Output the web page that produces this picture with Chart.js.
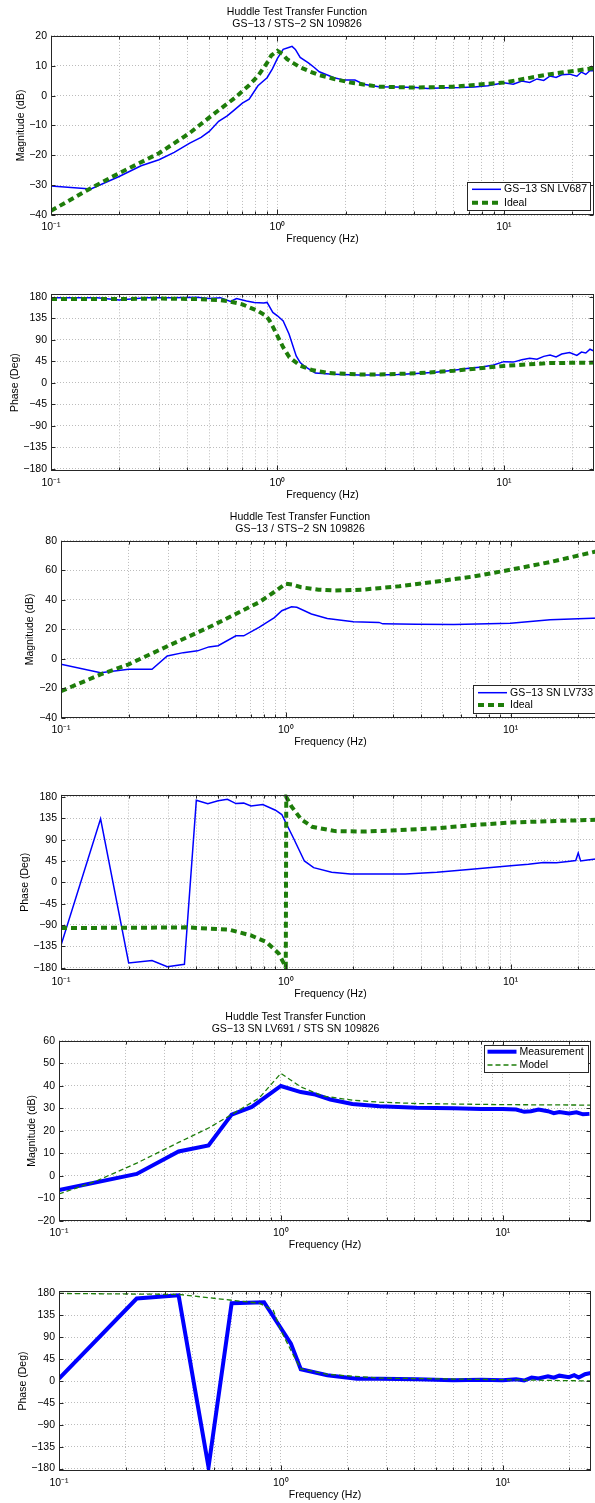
<!DOCTYPE html>
<html>
<head>
<meta charset="utf-8">
<script src="https://cdn.jsdelivr.net/npm/chart.js@4.4.1/dist/chart.umd.min.js"></script>
<style>
  html, body { margin: 0; padding: 0; background: #fff; }
  body { width: 595px; height: 1503px; position: relative; overflow: hidden; }
  canvas { position: absolute; left: 0; }
</style>
</head>
<body>
<canvas id="mag1"></canvas>
<canvas id="phase1"></canvas>
<canvas id="mag2"></canvas>
<canvas id="phase2"></canvas>
<canvas id="mag3"></canvas>
<canvas id="phase3"></canvas>
<script>
// axis ticks
const freqTicks = [0.1, 0.2, 0.3, 0.4, 0.5, 0.6, 0.7, 0.8, 0.9, 1, 2, 3, 4, 5, 6, 7, 8, 9, 10, 20];
const decadeTicks = [0.1, 1, 10];
const decadeLabels = ['10⁻¹', '10⁰', '10¹'];
const phaseTicks = [-180, -135, -90, -45, 0, 45, 90, 135, 180];
const mag1Ticks = [-40, -30, -20, -10, 0, 10, 20];
const mag2Ticks = [-40, -20, 0, 20, 40, 60, 80];
const mag3Ticks = [-20, -10, 0, 10, 20, 30, 40, 50, 60];

// panel 1 / 2 : GS-13 SN LV687
const lv687MagFreq = [0.1, 0.15, 0.2, 0.25, 0.3, 0.35, 0.41, 0.46, 0.5, 0.55, 0.6, 0.64, 0.7, 0.75, 0.82, 0.9, 0.95, 1.0, 1.06, 1.13, 1.16, 1.2, 1.26, 1.37, 1.45, 1.53, 1.65, 1.78, 1.97, 2.2, 2.4, 2.8, 3.3, 4.1, 4.6, 5.5, 6.5, 7.4, 8.5, 10, 11, 12, 13, 14, 15, 16, 17, 18, 19.5, 21, 22, 23, 24, 25];
const lv687Mag = [-30.3, -31.3, -27.1, -23.5, -21.5, -19, -15.9, -14, -12, -8.6, -6.8, -5, -2.5, -1.2, 3.3, 6, 9, 12.5, 15.5, 16.2, 16.5, 15.5, 12.8, 11, 9.5, 8, 7, 6, 5.2, 5.2, 3.8, 3, 2.9, 2.7, 2.4, 2.6, 2.7, 2.9, 3.3, 4.3, 3.8, 4.9, 4.4, 5.6, 5.1, 6.6, 6.1, 7.0, 7.2, 6.5, 7.9, 7.1, 8.4, 8.3];
const ideal1MagFreq = [0.1, 0.15, 0.2, 0.3, 0.41, 0.52, 0.65, 0.75, 0.82, 0.9, 0.94, 1.0, 1.05, 1.1, 1.18, 1.26, 1.4, 1.53, 1.8, 2.1, 2.8, 4.1, 6, 10, 16, 25];
const ideal1Mag = [-38.6, -31, -26, -19.3, -12.5, -6.3, -0.7, 3.5, 6.6, 11, 13.5, 15, 14, 12.3, 10.8, 9.5, 8, 6.9, 5.5, 4.4, 3, 2.7, 3, 4.4, 7.2, 9.2];
const lv687PhaseFreq = [0.1, 0.16, 0.2, 0.26, 0.35, 0.44, 0.5, 0.56, 0.62, 0.66, 0.73, 0.79, 0.87, 0.9, 0.954, 1.0, 1.06, 1.125, 1.21, 1.26, 1.31, 1.47, 1.7, 1.9, 2.3, 2.8, 3.4, 4.1, 5, 6, 7, 8, 9, 10, 11, 12, 13, 14, 15, 16, 17, 18, 19.5, 21, 22, 23, 24, 25];
const lv687Phase = [178, 178, 173, 178, 178, 179, 176, 178, 170, 176, 171, 168, 167, 168, 147, 140, 129, 102, 56, 42, 35, 20, 18, 17, 16, 16, 17, 19, 22, 26, 30, 33, 37, 44, 43, 48, 51, 49, 55, 58, 54, 60, 63, 57, 64, 62, 70, 66];
const ideal1PhaseFreq = [0.1, 0.2, 0.3, 0.45, 0.55, 0.6, 0.7, 0.82, 0.89, 0.92, 0.95, 1.0, 1.06, 1.13, 1.26, 1.42, 1.7, 2.3, 2.8, 4.1, 6, 10, 16, 25];
const ideal1Phase = [175, 175, 176, 175, 173, 171, 164, 150, 140, 131, 119, 98, 74, 53, 35.5, 26.5, 20, 17, 17, 19.5, 25, 35, 41, 42];

// panel 3 / 4 : GS-13 SN LV733
const lv733MagFreq = [0.1, 0.15, 0.2, 0.254, 0.297, 0.35, 0.405, 0.455, 0.5, 0.6, 0.65, 0.76, 0.89, 0.96, 1.06, 1.12, 1.3, 1.53, 2.0, 2.6, 2.7, 3.8, 5.6, 10, 15, 20, 25];
const lv733Mag = [-3.6, -9.3, -7, -7, 2, 4.3, 5.5, 8.2, 9, 15.7, 15.7, 21.4, 28, 32.7, 35.4, 35, 30.5, 27.5, 25.2, 24.8, 23.8, 23.6, 23.4, 24.3, 26.6, 27.3, 27.8];
const ideal2MagFreq = [0.1, 0.15, 0.2, 0.3, 0.47, 0.76, 0.9, 1.0, 1.08, 1.17, 1.4, 1.66, 2.2, 3.2, 4.7, 6.9, 10, 15, 25];
const ideal2Mag = [-21.8, -10.5, -3.6, 8.9, 22.5, 38.4, 46, 51, 50.3, 48.6, 47, 46.4, 47, 49.3, 52.5, 56, 60.5, 65.7, 73.5];
const lv733PhaseFreq = [0.1, 0.15, 0.2, 0.254, 0.297, 0.354, 0.4, 0.45, 0.5, 0.55, 0.6, 0.65, 0.7, 0.79, 0.9, 0.96, 1.0, 1.08, 1.21, 1.33, 1.6, 1.94, 2.63, 3.4, 4.7, 6.9, 10, 12, 14, 16, 18, 19.5, 20, 20.5, 22, 25];
const lv733Phase = [-133, 134, -170, -165, -178, -173, 173, 166, 172, 175, 166, 167, 161, 164, 152, 143, 126, 94, 45, 31, 21, 17.5, 17.5, 17.5, 21, 28, 35, 38, 42, 41, 44, 46, 62, 45, 47, 50];
const ideal2PhaseFreq = [0.1, 0.3, 0.36, 0.56, 0.7, 0.82, 0.93, 0.98, 1.0, 1.005, 1.06, 1.17, 1.31, 1.66, 2.2, 3.2, 4.7, 6.9, 10, 15, 25];
const ideal2Phase = [-96.5, -95.5, -95, -100, -112, -126, -150, -171, -180, 180, 160, 133, 117, 108, 107, 110, 114, 121, 126, 129, 132];

// panel 5 / 6 : GS-13 SN LV691
const lv691MagFreq = [0.1, 0.224, 0.346, 0.472, 0.6, 0.74, 1.0, 1.23, 1.43, 1.67, 2.1, 2.78, 4.1, 6, 8, 10, 11.5, 12.5, 13.4, 14.5, 16, 17, 18, 19.9, 21.5, 23, 24.6];
const lv691Mag = [-6.3, 0.9, 10.9, 13.6, 27.3, 30.7, 40, 37.3, 36.2, 34, 32, 31, 30.3, 30.1, 29.8, 29.8, 29.5, 28.5, 28.8, 29.5, 28.8, 27.9, 28.4, 27.8, 28.3, 27.4, 27.6];
const modelMagFreq = [0.1, 0.145, 0.224, 0.346, 0.472, 0.6, 0.8, 1.0, 1.23, 1.55, 2.1, 2.78, 4.1, 10, 25];
const modelMag = [-8, -2.5, 5.7, 14.9, 21.3, 27.3, 34.7, 45.6, 39.6, 35.5, 33.7, 32.8, 32.2, 31.7, 31.5];
const lv691PhaseFreq = [0.1, 0.224, 0.346, 0.472, 0.6, 0.84, 1.11, 1.23, 1.62, 2.2, 2.78, 4.1, 6, 8, 10, 11.5, 12.5, 13.5, 14.5, 16, 17, 18, 19.9, 21, 22, 23.5, 25];
const lv691Phase = [4.8, 169.5, 176, -177, 160, 162, 77, 24, 11.7, 4.8, 4.8, 3.4, 1.4, 2.5, 1.4, 3.5, 1, 7, 5, 9.6, 7, 11, 8, 12, 7, 14, 16.5];
const modelPhaseFreq = [0.1, 0.346, 0.6, 0.8, 0.925, 1.0, 1.13, 1.23, 1.62, 2.78, 10, 25];
const modelPhase = [180, 178, 166, 160, 145, 104, 56, 25, 13.7, 6, 2.7, 0];

const BLUE = '#0000ff';
const GREEN = '#1e7d0a';
const FONT = { family: 'Liberation Sans, Arial, sans-serif', size: 10.5, weight: 'normal' };

const pts = (f, v) => f.map((x, i) => ({ x: x, y: v[i] }));
const minus = v => String(v).replace('-', '\u2212');

// axes box with inward tick marks (MATLAB style)
const frame = {
    id: 'frame',
    afterDatasetsDraw(chart) {
        const { ctx, chartArea: a, scales } = chart;
        const l = Math.round(a.left) + 0.5, r = Math.round(a.right) - 0.5;
        const t = Math.round(a.top) + 0.5, b = Math.round(a.bottom) - 0.5;
        ctx.save();
        ctx.strokeStyle = '#262626';
        ctx.lineWidth = 1;
        ctx.strokeRect(l, t, r - l, b - t);
        ctx.beginPath();
        scales.x.ticks.forEach(tk => {
            const px = Math.round(scales.x.getPixelForValue(tk.value)) + 0.5;
            const len = decadeTicks.includes(tk.value) ? 5 : 3;
            ctx.moveTo(px, b); ctx.lineTo(px, b - len);
            ctx.moveTo(px, t); ctx.lineTo(px, t + len);
        });
        scales.y.ticks.forEach(tk => {
            const py = Math.round(scales.y.getPixelForValue(tk.value)) + 0.5;
            ctx.moveTo(l, py); ctx.lineTo(l + 4, py);
            ctx.moveTo(r, py); ctx.lineTo(r - 4, py);
        });
        ctx.stroke();
        ctx.restore();
    }
};

// legend box drawn inside the axes
const boxLegend = {
    id: 'boxLegend',
    afterDraw(chart, args, o) {
        if (!o.show) return;
        const { ctx, chartArea: a } = chart;
        const x = Math.round(a.right - o.right - o.width);
        const y = Math.round(o.top != null ? a.top + o.top : a.bottom - o.bottom - o.height);
        ctx.save();
        ctx.fillStyle = '#fff';
        ctx.fillRect(x, y, o.width, o.height);
        ctx.strokeStyle = '#262626';
        ctx.lineWidth = 1;
        ctx.strokeRect(x + 0.5, y + 0.5, o.width, o.height);
        chart.data.datasets.forEach((ds, i) => {
            const cy = y + o.rowTop + i * o.rowGap;
            ctx.strokeStyle = ds.borderColor;
            ctx.lineWidth = ds.borderWidth;
            ctx.setLineDash(ds.borderDash || []);
            ctx.beginPath();
            ctx.moveTo(x + o.lineFrom, cy);
            ctx.lineTo(x + o.lineTo, cy);
            ctx.stroke();
            ctx.setLineDash([]);
            ctx.fillStyle = '#000';
            ctx.font = FONT.size + 'px ' + FONT.family;
            ctx.textBaseline = 'middle';
            ctx.fillText(ds.label, x + o.textX, cy);
        });
        ctx.restore();
    }
};

function panel(id, p) {
    const canvas = document.getElementById(id);
    canvas.style.top = p.top + 'px';
    canvas.width = p.width;
    canvas.height = p.height;
    return new Chart(canvas, {
        type: 'line',
        data: { datasets: p.datasets },
        plugins: [frame, boxLegend],
        options: {
            responsive: false,
            animation: false,
            devicePixelRatio: 1,
            layout: { padding: { top: p.padTop || 0, right: p.padRight, left: 0, bottom: 0 } },
            elements: { point: { radius: 0 }, line: { tension: 0 } },
            plugins: {
                legend: { display: false },
                tooltip: { enabled: false },
                title: p.title ? {
                    display: true, text: p.title, color: '#000', font: FONT,
                    padding: { top: 5.4, bottom: 5.35 }
                } : { display: false },
                boxLegend: p.legend || { show: false }
            },
            scales: {
                x: {
                    type: 'logarithmic', min: 0.1, max: 25,
                    afterBuildTicks: axis => { axis.ticks = freqTicks.map(v => ({ value: v })); },
                    afterFit: axis => { axis.height = 34; },
                    ticks: {
                        autoSkip: false, maxRotation: 0, minRotation: 0, padding: 6,
                        color: '#000', font: FONT,
                        callback: v => {
                            const i = decadeTicks.indexOf(v);
                            return i < 0 ? '' : decadeLabels[i];
                        }
                    },
                    grid: { color: '#bcbcbc', lineWidth: 1, drawTicks: false },
                    border: { display: false, dash: [1, 2] },
                    title: { display: true, text: 'Frequency (Hz)', color: '#000', font: FONT, padding: { top: 0, bottom: 3.5 } }
                },
                y: {
                    min: p.yMin, max: p.yMax,
                    afterBuildTicks: axis => { axis.ticks = p.yTicks.map(v => ({ value: v })); },
                    afterFit: axis => { axis.width = p.left; },
                    ticks: { padding: 4, color: '#000', font: FONT, callback: v => minus(v) },
                    grid: { color: '#bcbcbc', lineWidth: 1, drawTicks: false },
                    border: { display: false, dash: [1, 2] },
                    title: { display: true, text: p.yTitle, color: '#000', font: FONT, padding: { top: p.yTitlePad, bottom: 0 } }
                }
            }
        }
    });
}

const thinBlue = (label, data) => ({ label, data, borderColor: BLUE, borderWidth: 1.5, order: 1 });
const thickGreen = (label, data) => ({ label, data, borderColor: GREEN, borderWidth: 4, borderDash: [6, 4], order: 0 });
const thickBlue = (label, data) => ({ label, data, borderColor: BLUE, borderWidth: 4, order: 1 });
const thinGreen = (label, data) => ({ label, data, borderColor: GREEN, borderWidth: 1.3, borderDash: [5, 3], order: 0 });

const TITLE_A = ['Huddle Test Transfer Function', 'GS\u221213 / STS\u22122 SN 109826'];
const TITLE_B = ['Huddle Test Transfer Function', 'GS\u221213 SN LV691 / STS SN 109826'];

panel('mag1', {
    top: 0, width: 595, height: 249, padRight: 1, left: 51, title: TITLE_A,
    yMin: -40, yMax: 20, yTicks: mag1Ticks, yTitle: 'Magnitude (dB)', yTitlePad: 14.7,
    datasets: [thinBlue('GS\u221213 SN LV687', pts(lv687MagFreq, lv687Mag)), thickGreen('Ideal', pts(ideal1MagFreq, ideal1Mag))],
    legend: { show: true, width: 123, height: 28, right: 4, bottom: 5, rowTop: 7.3, rowGap: 13.4, lineFrom: 5, lineTo: 34, textX: 37 }
});

panel('phase1', {
    top: 255, width: 595, height: 250, padTop: 39.3, padRight: 1, left: 51,
    yMin: -185, yMax: 185, yTicks: phaseTicks, yTitle: 'Phase (Deg)', yTitlePad: 8.9,
    datasets: [thinBlue('GS\u221213 SN LV687', pts(lv687PhaseFreq, lv687Phase)), thickGreen('Ideal', pts(ideal1PhaseFreq, ideal1Phase))]
});

panel('mag2', {
    top: 505, width: 601, height: 247, padRight: 1, left: 61, title: TITLE_A,
    yMin: -40, yMax: 80, yTicks: mag2Ticks, yTitle: 'Magnitude (dB)', yTitlePad: 24.1,
    datasets: [thinBlue('GS\u221213 SN LV733', pts(lv733MagFreq, lv733Mag)), thickGreen('Ideal', pts(ideal2MagFreq, ideal2Mag))],
    legend: { show: true, width: 124, height: 28, right: 3, bottom: 5, rowTop: 7.7, rowGap: 12.3, lineFrom: 5, lineTo: 34, textX: 37 }
});

panel('phase2', {
    top: 755, width: 601, height: 249, padTop: 39.6, padRight: 1, left: 61,
    yMin: -185, yMax: 185, yTicks: phaseTicks, yTitle: 'Phase (Deg)', yTitlePad: 18.4,
    datasets: [thinBlue('GS\u221213 SN LV733', pts(lv733PhaseFreq, lv733Phase)), thickGreen('Ideal', pts(ideal2PhaseFreq, ideal2Phase))]
});

panel('mag3', {
    top: 1005, width: 595, height: 250, padRight: 4, left: 59, title: TITLE_B,
    yMin: -20, yMax: 60, yTicks: mag3Ticks, yTitle: 'Magnitude (dB)', yTitlePad: 26.1,
    datasets: [thickBlue('Measurement', pts(lv691MagFreq, lv691Mag)), thinGreen('Model', pts(modelMagFreq, modelMag))],
    legend: { show: true, width: 104, height: 27, right: 3, top: 4, rowTop: 6.7, rowGap: 13.3, lineFrom: 3.5, lineTo: 32.5, textX: 35.5 }
});

panel('phase3', {
    top: 1255, width: 595, height: 250, padTop: 36, padRight: 4, left: 59,
    yMin: -185, yMax: 185, yTicks: phaseTicks, yTitle: 'Phase (Deg)', yTitlePad: 16.7,
    datasets: [thickBlue('Measurement', pts(lv691PhaseFreq, lv691Phase)), thinGreen('Model', pts(modelPhaseFreq, modelPhase))]
});
</script>
</body>
</html>
